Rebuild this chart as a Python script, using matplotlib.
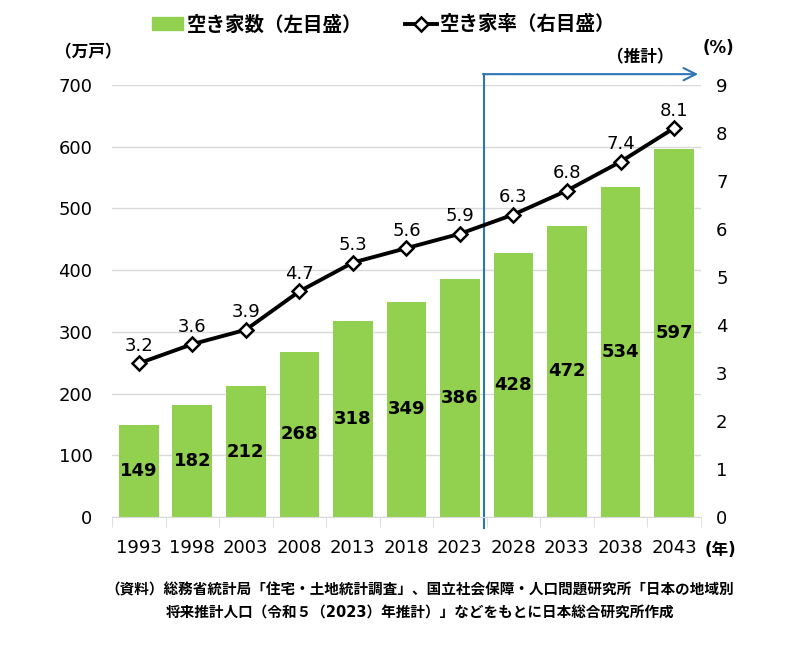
import matplotlib.pyplot as plt
from matplotlib import transforms

plt.rcParams['font.family'] = ['DejaVu Sans', 'Noto Sans CJK JP']

years = ['1993', '1998', '2003', '2008', '2013', '2018', '2023', '2028', '2033', '2038', '2043']
vacant_houses = [149, 182, 212, 268, 318, 349, 386, 428, 472, 534, 597]
vacancy_rate = [3.2, 3.6, 3.9, 4.7, 5.3, 5.6, 5.9, 6.3, 6.8, 7.4, 8.1]

green = '#92D050'
blue = '#2E75B6'

fig = plt.figure(figsize=(8, 6.7), dpi=100)
ax = fig.add_axes([0.14, 0.2284, 0.736, 0.6448])
ax2 = ax.twinx()

x = list(range(len(years)))

# bars (left axis)
ax.bar(x, vacant_houses, width=0.74, color=green, zorder=2)
for xi, v in zip(x, vacant_houses):
    ax.text(xi, v / 2, str(v), ha='center', va='center', fontsize=13,
            fontweight='bold', color='black', zorder=3)

ax.set_xlim(-0.5, len(years) - 0.5)
ax.set_ylim(0, 700)
ax.set_yticks(range(0, 701, 100))
ax.yaxis.grid(True, color='#D9D9D9', linewidth=1)
ax.set_axisbelow(True)
ax.tick_params(axis='y', length=0, labelsize=13, pad=14)
ax.set_xticks(x)
ax.set_xticklabels(years, fontsize=13)
ax.set_xticks([i - 0.5 for i in range(len(years) + 1)], minor=True)
ax.tick_params(axis='x', which='major', length=0, pad=16)
ax.tick_params(axis='x', which='minor', length=7, color='#D9D9D9', direction='out')
for s in ['top', 'left', 'right']:
    ax.spines[s].set_visible(False)
ax2.spines[:].set_visible(False)
ax.spines['bottom'].set_color('#D9D9D9')

# line (right axis)
ax2.plot(x, vacancy_rate, color='black', linewidth=2.8, marker='D', markersize=7,
         markerfacecolor='white', markeredgecolor='black', markeredgewidth=1.8, zorder=4)
for xi, r in zip(x, vacancy_rate):
    ax2.text(xi, r + 0.36, f'{r:.1f}', ha='center', va='center', fontsize=13)
ax2.set_ylim(0, 9)
ax2.set_yticks(range(0, 10))
ax2.tick_params(axis='y', length=0, labelsize=13, pad=11)

# forecast arrow
trans = transforms.blended_transform_factory(ax.transData, ax.transAxes)
ax.plot([6.45, 6.45], [-0.025, 1.025], color=blue, linewidth=1.5,
        transform=trans, clip_on=False)
ax.annotate('', xy=(10.45, 1.025), xytext=(6.43, 1.025), xycoords=trans,
            textcoords=trans,
            arrowprops=dict(arrowstyle='->', color=blue, lw=1.5, mutation_scale=22,
                            shrinkA=0, shrinkB=0))
fig.text(0.80, 0.915, '（推計）', ha='center', va='center', fontsize=12,
         fontweight='bold')

# axis unit labels
fig.text(0.11, 0.922, '（万戸）', ha='center', va='center', fontsize=12,
         fontweight='bold')
fig.text(0.898, 0.928, '(%)', ha='center', va='center', fontsize=12,
         fontweight='bold')
fig.text(0.9, 0.179, '(年)', ha='center', va='center', fontsize=12,
         fontweight='bold')

# legend
leg_handles = [
    plt.Rectangle((0, 0), 1, 1, color=green),
    plt.Line2D([], [], color='black', linewidth=2.8, marker='D', markersize=7,
               markerfacecolor='white', markeredgecolor='black', markeredgewidth=1.8),
]
fig.legend(leg_handles, ['空き家数（左目盛）', '空き家率（右目盛）'], loc='center',
           bbox_to_anchor=(0.48, 0.963), ncol=2, frameon=False,
           prop={'size': 14, 'weight': 'bold'},
           handlelength=1.6, columnspacing=2.2, handletextpad=0.2)

# source
fig.text(0.525, 0.119, '（資料）総務省統計局「住宅・土地統計調査」、国立社会保障・人口問題研究所「日本の地域別',
         ha='center', va='center', fontsize=10.5, fontweight='bold')
fig.text(0.525, 0.085, '将来推計人口（令和５（2023）年推計）」などをもとに日本総合研究所作成',
         ha='center', va='center', fontsize=10.5, fontweight='bold')

fig.savefig('out.png', dpi=100)
